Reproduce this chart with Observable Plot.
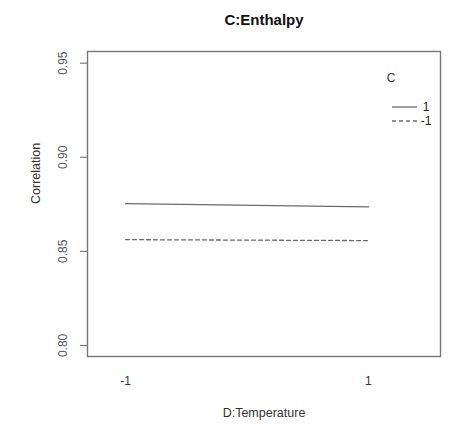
<!DOCTYPE html>
<html>
<head>
<meta charset="utf-8">
<script src="https://cdn.jsdelivr.net/npm/d3@7"></script>
<script src="https://cdn.jsdelivr.net/npm/@observablehq/plot@0.6"></script>
<style>
  body { margin: 0; background: #fff; }
  svg { font-family: "Liberation Sans", Arial, sans-serif; }
</style>
</head>
<body>
<div id="chart"></div>
<script>
const title = "C:Enthalpy";
const xLabel = "D:Temperature";
const yLabel = "Correlation";
const legendTitle = "C";
const xLevels = [-1, 1];
const xTickLabels = ["-1", "1"];
const yTicks = [0.80, 0.85, 0.90, 0.95];
const seriesNames = ["1", "-1"];
const corrC1 = [0.8754, 0.8736];
const corrCm1 = [0.8562, 0.8557];

const rows = [
  ...xLevels.map((x, i) => ({x, y: corrC1[i], c: seriesNames[0]})),
  ...xLevels.map((x, i) => ({x, y: corrCm1[i], c: seriesNames[1]}))
];

const W = 451, H = 426;
const lineColor = "#6a6a6a";

const plot = Plot.plot({
  width: W,
  height: H,
  marginLeft: 87,
  marginRight: 11,
  marginTop: 51,
  marginBottom: 70,
  style: {fontFamily: "Liberation Sans, Arial, sans-serif", fontSize: "12px", color: "#333", background: "#fff"},
  x: {domain: [-1.313, 1.593]},
  y: {domain: [0.7941, 0.9562]},
  marks: [
    Plot.frame({stroke: "#777", strokeWidth: 1.4}),
    Plot.axisY({
      ticks: yTicks, tickFormat: d3.format(".2f"), tickSize: 7, tickPadding: 14,
      tickRotate: -90, label: null, stroke: "#666", fill: "#555", fontSize: 12
    }),
    Plot.axisX({
      ticks: xLevels, tickFormat: (d) => xTickLabels[xLevels.indexOf(d)],
      tickSize: 0, tickPadding: 20, label: null, fill: "#333", fontSize: 12
    }),
    Plot.lineY(rows.filter(d => d.c === seriesNames[0]), {x: "x", y: "y", stroke: lineColor, strokeWidth: 1.3}),
    Plot.lineY(rows.filter(d => d.c === seriesNames[1]), {x: "x", y: "y", stroke: lineColor, strokeWidth: 1.3, strokeDasharray: "4,3"}),
    Plot.text([title], {frameAnchor: "top", dy: -31, lineAnchor: "middle", text: d => d, fontWeight: "bold", fontSize: 15, fill: "#111"}),
    Plot.text([xLabel], {frameAnchor: "bottom", dy: 56, lineAnchor: "middle", text: d => d, fontSize: 12.5, fill: "#333"}),
    Plot.text([yLabel], {frameAnchor: "left", dx: -52, rotate: -90, text: d => d, fontSize: 12.5, fill: "#333"})
  ]
});

document.getElementById("chart").appendChild(plot);

// legend (R-style, inside plot at top right)
const svg = d3.select(plot);
const lg = svg.append("g").attr("font-size", 12);
lg.append("text").attr("x", 391).attr("y", 82).attr("fill", "#333").text(legendTitle);
const styles = [null, "4,3"];
seriesNames.forEach((name, i) => {
  const yy = 107 + i * 14;
  lg.append("line").attr("x1", 392).attr("x2", 417).attr("y1", yy).attr("y2", yy)
    .attr("stroke", lineColor).attr("stroke-width", 1.3)
    .attr("stroke-dasharray", styles[i]);
  lg.append("text").attr("x", 426).attr("y", yy + 4).attr("fill", "#222").text(name);
});
</script>
</body>
</html>
